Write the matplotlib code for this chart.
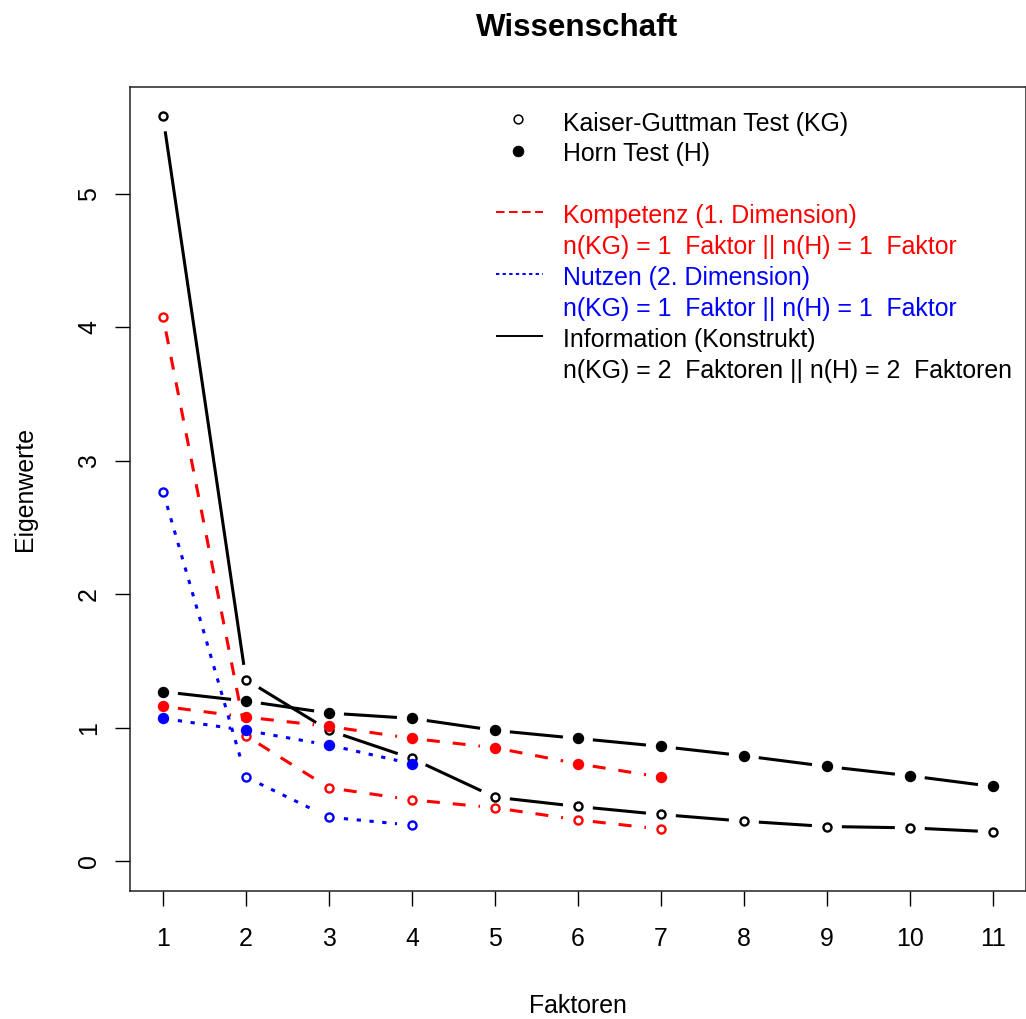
import matplotlib
matplotlib.use("Agg")
import matplotlib.pyplot as plt
from matplotlib.lines import Line2D
import numpy as np

# factor numbers and eigenvalues (Kaiser-Guttman = open, Horn = filled)
komp_x = [1, 2, 3, 4, 5, 6, 7]
komp_kg = [4.08, 0.94, 0.55, 0.46, 0.40, 0.31, 0.24]
komp_h = [1.16, 1.08, 1.01, 0.92, 0.85, 0.73, 0.63]

nutz_x = [1, 2, 3, 4]
nutz_kg = [2.77, 0.63, 0.33, 0.27]
nutz_h = [1.07, 0.98, 0.87, 0.73]

info_x = [1, 2, 3, 4, 5, 6, 7, 8, 9, 10, 11]
info_kg = [5.58, 1.36, 0.98, 0.77, 0.48, 0.41, 0.35, 0.30, 0.26, 0.25, 0.22]
info_h = [1.27, 1.20, 1.11, 1.07, 0.98, 0.92, 0.86, 0.79, 0.71, 0.64, 0.56]

legend_lines = [
	("Kaiser-Guttman Test (KG)", "black"),
	("Horn Test (H)", "black"),
	("", "black"),
	("Kompetenz (1. Dimension)", "red"),
	("n(KG) = 1  Faktor || n(H) = 1  Faktor", "red"),
	("Nutzen (2. Dimension)", "blue"),
	("n(KG) = 1  Faktor || n(H) = 1  Faktor", "blue"),
	("Information (Konstrukt)", "black"),
	("n(KG) = 2  Faktoren || n(H) = 2  Faktoren", "black"),
]

W, H = 1026, 1019
FONT = "Liberation Sans"
FS = 17.9
LW = 2.2
GAP = 15  # pixels left free around each point (like R type="b")


def gappedSegments(ax, x, y, gap):
	pts = ax.transData.transform(np.column_stack([x, y]))
	inv = ax.transData.inverted()
	segs = []
	for p0, p1 in zip(pts[:-1], pts[1:]):
		d = p1 - p0
		L = np.hypot(d[0], d[1])
		if L <= 2 * gap:
			continue
		u = d / L
		segs.append(inv.transform(np.array([p0 + u * gap, p1 - u * gap])))
	return segs


def drawSeries(ax, x, y, color, dashes, filled):
	for s in gappedSegments(ax, x, y, GAP):
		ln, = ax.plot(s[:, 0], s[:, 1], color=color, lw=LW,
			solid_capstyle='butt', dash_capstyle='butt')
		if dashes:
			ln.set_dashes(dashes)
	if filled:
		ax.plot(x, y, linestyle='none', marker='o', ms=7.2, mfc=color,
			mec=color, mew=1.0)
	else:
		ax.plot(x, y, linestyle='none', marker='o', ms=5.8, mfc='none',
			mec=color, mew=1.7)


fig = plt.figure(figsize=(W / 100, H / 100), dpi=100)
ax = fig.add_axes([129.8 / W, (H - 891) / H, 896.2 / W, 804.3 / H])
ax.set_xlim(0.6, 11.4)
ax.set_ylim(-0.2232, 5.8032)

dash = (13 / 3.06, 13 / 3.06)
dot = (1.4, 2.8)

styles = [
	(info_x, info_kg, info_h, 'black', None),
	(komp_x, komp_kg, komp_h, 'red', dash),
	(nutz_x, nutz_kg, nutz_h, 'blue', dot),
]
for xs, kg, hh, col, ds in styles:
	drawSeries(ax, xs, kg, col, ds, False)
	drawSeries(ax, xs, hh, col, ds, True)

ax.set_xticks(info_x)
ax.set_xticklabels([str(v) for v in info_x], fontsize=FS, family=FONT)
ax.set_yticks([0, 1, 2, 3, 4, 5])
ax.set_yticklabels(["0", "1", "2", "3", "4", "5"], fontsize=FS, family=FONT,
	rotation=90, va='center')
ax.tick_params(axis='x', length=10.8, width=1.0, pad=15)
ax.tick_params(axis='y', length=10.8, width=1.0, pad=10)
for sp in ax.spines.values():
	sp.set_linewidth(1.1)
	sp.set_color('#222222')

fig.text(577.5 / W, 1 - 36 / H, "Wissenschaft", ha='center', va='baseline',
	fontsize=22.6, fontweight='bold', family=FONT)
fig.text(577.9 / W, 1 - 1013 / H, "Faktoren", ha='center', va='baseline',
	fontsize=FS, family=FONT)
fig.text(24.7 / W, 1 - 489 / H, "Eigenwerte", ha='center', va='center',
	rotation=90, fontsize=FS, family=FONT)

# legend, drawn by hand in figure pixels
base0 = 130.5
step = 30.9
for i, (txt, col) in enumerate(legend_lines):
	if txt:
		fig.text(563 / W, 1 - (base0 + i * step) / H, txt, color=col,
			ha='left', va='baseline', fontsize=FS, family=FONT)

fig.add_artist(Line2D([518 / W], [1 - 119 / H], marker='o', ms=6.3, mfc='none',
	mec='black', mew=1.1, transform=fig.transFigure))
fig.add_artist(Line2D([518 / W], [1 - 150.7 / H], marker='o', ms=7.8, mfc='black',
	mec='black', mew=0.5, transform=fig.transFigure))
legHandles = [
	(3, 'red', (4.4, 2.3)),
	(5, 'blue', (1.7, 1.7)),
	(7, 'black', None),
]
for idx, col, ds in legHandles:
	yy = 1 - (base0 + idx * step - 11) / H
	ln = Line2D([496 / W, 543 / W], [yy, yy], color=col, lw=1.4,
		transform=fig.transFigure, solid_capstyle='butt', dash_capstyle='butt')
	if ds:
		ln.set_dashes(ds)
	fig.add_artist(ln)

fig.savefig("out.png", dpi=100)
